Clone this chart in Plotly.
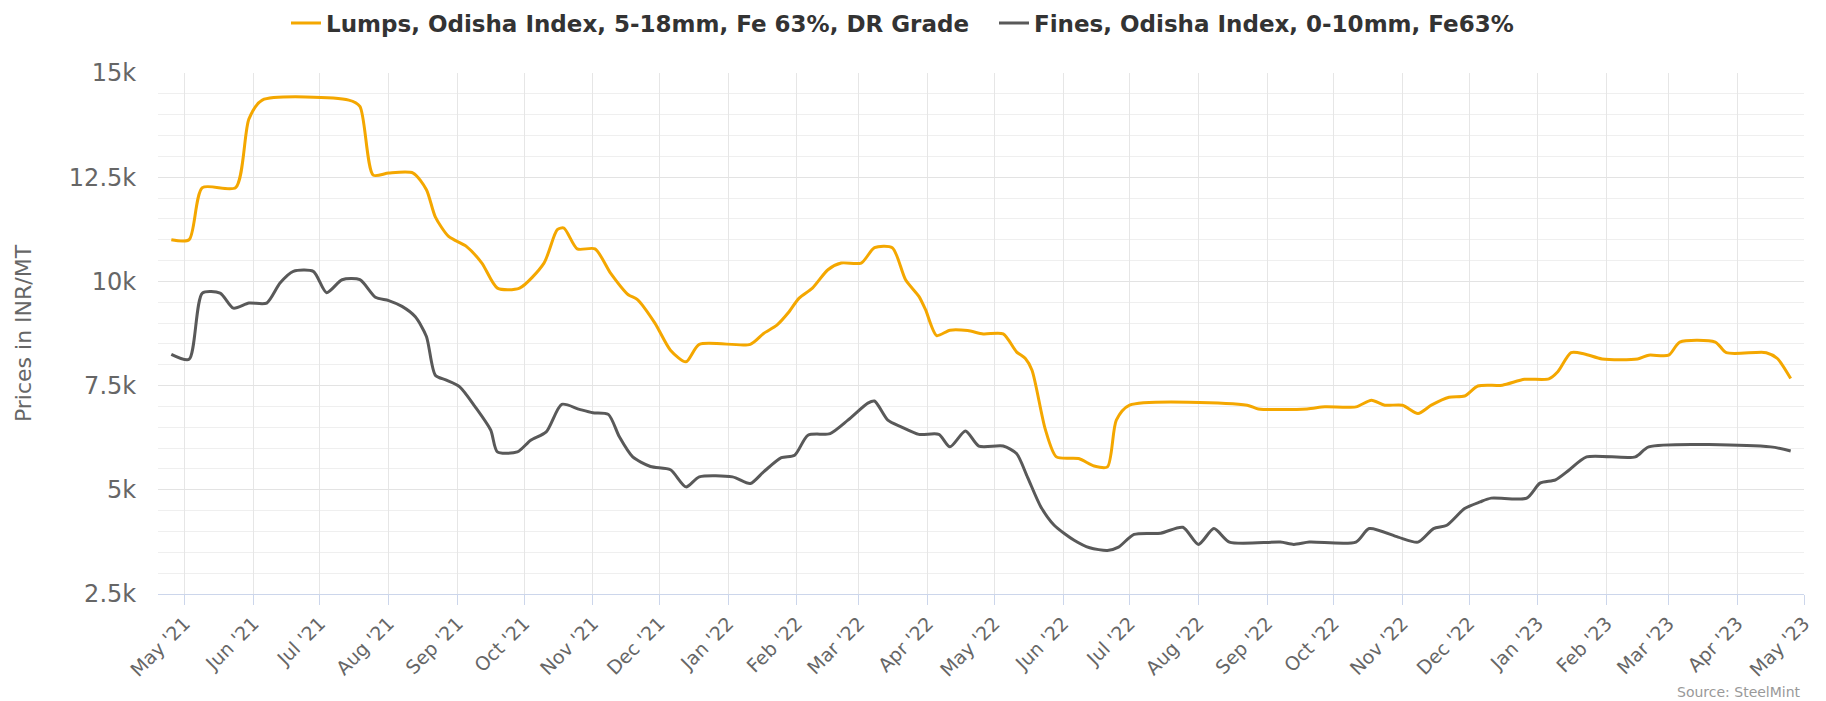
import plotly.graph_objects as go

lumps_dates = [
    "2021-04-25", "2021-05-03", "2021-05-09", "2021-05-24", "2021-05-30", "2021-06-05",
    "2021-07-14", "2021-07-19", "2021-07-25", "2021-08-01", "2021-08-12", "2021-08-18",
    "2021-08-22", "2021-08-28", "2021-09-05", "2021-09-12", "2021-09-19", "2021-09-29",
    "2021-10-10", "2021-10-16", "2021-10-19", "2021-10-25", "2021-11-02", "2021-11-09",
    "2021-11-17", "2021-11-21", "2021-11-29", "2021-12-06", "2021-12-13", "2021-12-19",
    "2022-01-11", "2022-01-17", "2022-01-23", "2022-01-28", "2022-02-02", "2022-02-08",
    "2022-02-15", "2022-02-21", "2022-03-02", "2022-03-08", "2022-03-16", "2022-03-22",
    "2022-03-28", "2022-03-31", "2022-04-05", "2022-04-11", "2022-04-19", "2022-04-26",
    "2022-05-05", "2022-05-11", "2022-05-15", "2022-05-18", "2022-05-24", "2022-05-29",
    "2022-06-08", "2022-06-15", "2022-06-21", "2022-06-25", "2022-07-01", "2022-08-23",
    "2022-08-28", "2022-09-19", "2022-09-27", "2022-10-11", "2022-10-18", "2022-10-24",
    "2022-11-01", "2022-11-08", "2022-11-14", "2022-11-22", "2022-11-29", "2022-12-05",
    "2022-12-16", "2022-12-26", "2023-01-06", "2023-01-10", "2023-01-16", "2023-01-22",
    "2023-01-30", "2023-02-15", "2023-02-20", "2023-03-01", "2023-03-06", "2023-03-22",
    "2023-03-27", "2023-04-14", "2023-04-19", "2023-04-25",
]
lumps_values = [
    11000, 11000, 12250, 12250, 13900, 14350,
    14350, 14200, 12550, 12600, 12600, 12200,
    11550, 11080, 10840, 10440, 9840, 9840,
    10440, 11240, 11280, 10780, 10780, 10200,
    9680, 9570, 9000, 8350, 8070, 8490,
    8490, 8750, 8950, 9240, 9600, 9840,
    10280, 10440, 10440, 10810, 10810, 10040,
    9640, 9320, 8700, 8830, 8820, 8740,
    8740, 8310, 8150, 7870, 6450, 5790,
    5750, 5570, 5550, 6670, 7030, 7030,
    6940, 6940, 6990, 6990, 7150, 7030,
    7030, 6830, 7030, 7220, 7250, 7490,
    7510, 7650, 7660, 7830, 8290, 8260,
    8140, 8140, 8230, 8230, 8545, 8545,
    8290, 8290, 8150, 7670,
]

fines_dates = [
    "2021-04-25", "2021-05-03", "2021-05-09", "2021-05-17", "2021-05-23", "2021-05-30",
    "2021-06-07", "2021-06-13", "2021-06-19", "2021-06-28", "2021-07-04", "2021-07-11",
    "2021-07-19", "2021-07-26", "2021-08-01", "2021-08-07", "2021-08-13", "2021-08-18",
    "2021-08-22", "2021-08-27", "2021-09-02", "2021-09-09", "2021-09-16", "2021-09-19",
    "2021-09-28", "2021-10-04", "2021-10-11", "2021-10-18", "2021-10-26", "2021-11-01",
    "2021-11-08", "2021-11-13", "2021-11-19", "2021-11-27", "2021-12-06", "2021-12-13",
    "2021-12-19", "2022-01-03", "2022-01-11", "2022-01-17", "2022-01-25", "2022-01-31",
    "2022-02-06", "2022-02-16", "2022-02-24", "2022-03-05", "2022-03-08", "2022-03-14",
    "2022-03-20", "2022-03-28", "2022-04-06", "2022-04-11", "2022-04-18", "2022-04-24",
    "2022-05-05", "2022-05-11", "2022-05-16", "2022-05-22", "2022-05-28", "2022-06-06",
    "2022-06-13", "2022-06-21", "2022-06-26", "2022-07-03", "2022-07-15", "2022-07-25",
    "2022-08-01", "2022-08-08", "2022-08-15", "2022-09-07", "2022-09-13", "2022-09-20",
    "2022-10-11", "2022-10-17", "2022-10-30", "2022-11-08", "2022-11-15", "2022-11-21",
    "2022-11-29", "2022-12-06", "2022-12-11", "2022-12-27", "2023-01-02", "2023-01-09",
    "2023-01-15", "2023-01-23", "2023-02-14", "2023-02-20", "2023-04-16", "2023-04-25",
]
fines_values = [
    8250, 8130, 9720, 9720, 9360, 9480,
    9480, 9960, 10240, 10240, 9730, 10040,
    10040, 9620, 9540, 9400, 9150, 8680,
    7750, 7630, 7470, 6990, 6430, 5910,
    5910, 6190, 6390, 7050, 6930, 6850,
    6810, 6270, 5790, 5560, 5480, 5070,
    5310, 5310, 5150, 5430, 5770, 5830,
    6310, 6350, 6670, 7080, 7130, 6670,
    6510, 6330, 6330, 6030, 6410, 6050,
    6050, 5870, 5300, 4590, 4150, 3790,
    3610, 3545, 3625, 3930, 3960, 4100,
    3690, 4070, 3745, 3745, 3690, 3745,
    3745, 4070, 3865, 3745, 4070, 4150,
    4550, 4710, 4800, 4800, 5160, 5240,
    5470, 5790, 5790, 6030, 6030, 5930,
]

series_names = [
    "Lumps, Odisha Index, 5-18mm, Fe 63%, DR Grade",
    "Fines, Odisha Index, 0-10mm, Fe63%",
]
series_colors = ["#F4A700", "#595959"]

x_tick_dates = [
    "2021-05-01", "2021-06-01", "2021-07-01", "2021-08-01", "2021-09-01", "2021-10-01",
    "2021-11-01", "2021-12-01", "2022-01-01", "2022-02-01", "2022-03-01", "2022-04-01",
    "2022-05-01", "2022-06-01", "2022-07-01", "2022-08-01", "2022-09-01", "2022-10-01",
    "2022-11-01", "2022-12-01", "2023-01-01", "2023-02-01", "2023-03-01", "2023-04-01",
    "2023-05-01",
]
x_tick_labels = [
    "May '21", "Jun '21", "Jul '21", "Aug '21", "Sep '21", "Oct '21",
    "Nov '21", "Dec '21", "Jan '22", "Feb '22", "Mar '22", "Apr '22",
    "May '22", "Jun '22", "Jul '22", "Aug '22", "Sep '22", "Oct '22",
    "Nov '22", "Dec '22", "Jan '23", "Feb '23", "Mar '23", "Apr '23",
    "May '23",
]
y_tick_values = [2500, 5000, 7500, 10000, 12500, 15000]
y_tick_labels = ["2.5k", "5k", "7.5k", "10k", "12.5k", "15k"]

y_title = "Prices in INR/MT"
source_text = "Source: SteelMint"

fig = go.Figure()
for name, xs, ys, col in [
    (series_names[0], lumps_dates, lumps_values, series_colors[0]),
    (series_names[1], fines_dates, fines_values, series_colors[1]),
]:
    fig.add_trace(go.Scatter(
        x=xs, y=ys, name=name, mode="lines",
        line=dict(color=col, width=3, shape="spline", smoothing=0.7),
    ))

fig.update_layout(
    width=1826, height=701,
    margin=dict(l=158, r=22, t=73, b=107, autoexpand=False),
    paper_bgcolor="white", plot_bgcolor="white",
    font=dict(family="DejaVu Sans", color="#666666"),
    showlegend=True,
    legend=dict(
        orientation="h", xref="container", yref="container",
        x=286 / 1826, xanchor="left", y=1 - 23 / 701, yanchor="middle",
        font=dict(family="DejaVu Sans", size=23, color="#333333", weight="bold"),
        itemwidth=30, entrywidth=663, entrywidthmode="pixels",
        bgcolor="rgba(0,0,0,0)",
    ),
    xaxis=dict(
        type="date", range=["2021-04-19", "2023-05-01"], automargin=False,
        tickmode="array", tickvals=x_tick_dates, ticktext=x_tick_labels,
        tickangle=-45, tickfont=dict(size=19, color="#666666"),
        showgrid=True, gridcolor="#e6e6e6", gridwidth=1,
        showline=True, linecolor="#ccd6eb", linewidth=1,
        ticks="outside", tickcolor="#ccd6eb", ticklen=10,
        zeroline=False,
    ),
    yaxis=dict(
        range=[2500, 15000], automargin=False,
        tickmode="array", tickvals=y_tick_values, ticktext=y_tick_labels,
        tickfont=dict(size=24, color="#666666"),
        showgrid=True, gridcolor="#e3e3e3", gridwidth=1,
        minor=dict(dtick=500, tick0=0, showgrid=True, gridcolor="#efefef", gridwidth=1),
        ticks="outside", ticklen=16, tickcolor="rgba(0,0,0,0)",
        showline=False, zeroline=False,
        title=dict(text=y_title, font=dict(size=22, color="#666666"), standoff=31),
    ),
    annotations=[dict(
        text=source_text, xref="paper", yref="paper", x=0.9994, y=-0.189,
        xanchor="right", yanchor="middle", showarrow=False,
        font=dict(size=14, color="#999999"),
    )],
)

fig.write_html(
    "out.html",
    config={"displayModeBar": False},
    post_script="document.body.style.margin='0';document.body.style.overflow='hidden';",
)
